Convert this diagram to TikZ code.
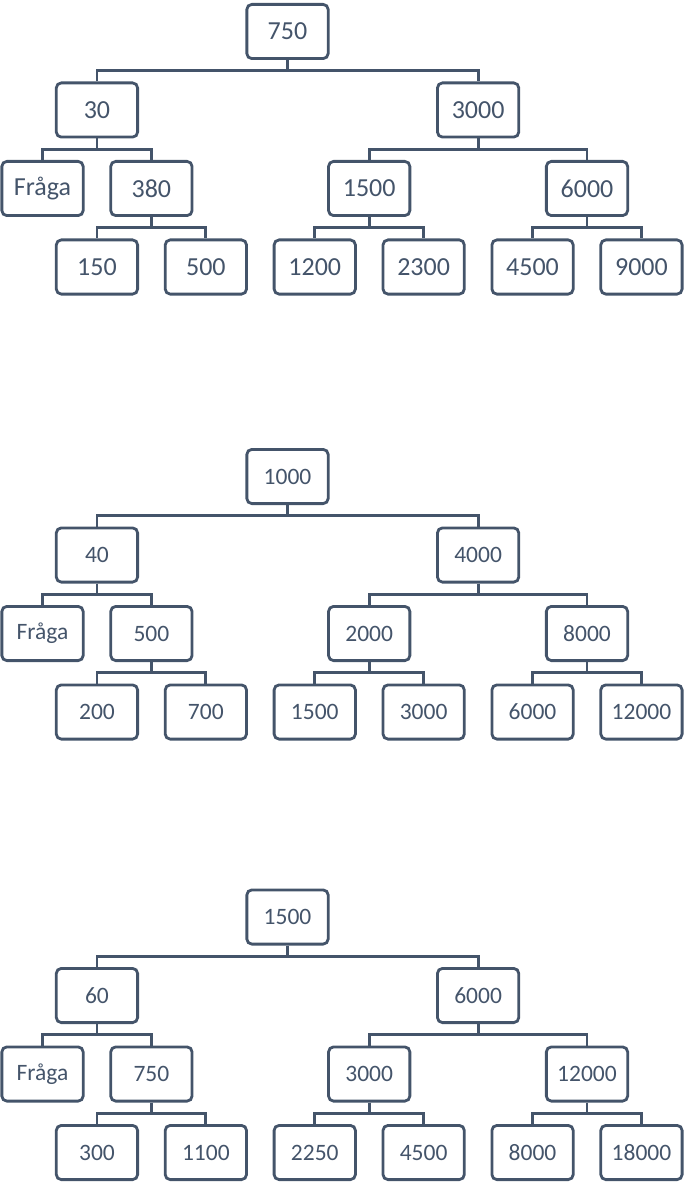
\documentclass[tikz,border=0pt]{standalone}
\usepackage{fontspec}
\setmainfont{Carlito}
\usetikzlibrary{calc}
\definecolor{ink}{HTML}{44546A}
\newcommand\myconn[3]{%
  \draw[link] (#1.south) |- ($(#1.south)!.5!(#2.north)$) -| (#2.north);
  \draw[link] (#1.south) |- ($(#1.south)!.5!(#3.north)$) -| (#3.north);}
\begin{document}
\begin{tikzpicture}[x=1pt,y=-1pt,
  box/.style={draw=ink, line width=2.8pt, rounded corners=5pt, minimum width=81.3pt,
    minimum height=54.2pt, inner sep=0pt, text=ink},
  bigtext/.style={font=\fontsize{26}{30}\selectfont},
  smalltext/.style={font=\fontsize{23.5}{28}\selectfont},
  link/.style={draw=ink, line width=2.8pt}]
\useasboundingbox (0,0) rectangle (685,1182);

% ---------- tree 1 ----------
\begin{scope}[name prefix=a-, every node/.style={box, bigtext}]
\node (r)   at (287.5, 31.5) {750};
\node (l)   at (96.95, 110) {30};
\node (rr)  at (478.1, 110) {3000};
\node (ll)  at (42.5, 188.5) {Fråga};
\node (lr)  at (151.4, 188.5) {380};
\node (rl)  at (369.2, 188.5) {1500};
\node (rrr) at (587, 188.5) {6000};
\node (lrl) at (96.95, 267) {150};
\node (lrr) at (205.85, 267) {500};
\node (rll) at (314.75, 267) {1200};
\node (rlr) at (423.65, 267) {2300};
\node (rrl) at (532.55, 267) {4500};
\node (rrx) at (641.45, 267) {9000};
\myconn{r}{l}{rr}
\myconn{l}{ll}{lr}
\myconn{lr}{lrl}{lrr}
\myconn{rr}{rl}{rrr}
\myconn{rl}{rll}{rlr}
\myconn{rrr}{rrl}{rrx}
\end{scope}

% ---------- tree 2 ----------
\begin{scope}[name prefix=b-, every node/.style={box, smalltext}]
\node (r)   at (287.5, 476.5) {1000};
\node (l)   at (96.95, 555) {40};
\node (rr)  at (478.1, 555) {4000};
\node (ll)  at (42.5, 633.5) {Fråga};
\node (lr)  at (151.4, 633.5) {500};
\node (rl)  at (369.2, 633.5) {2000};
\node (rrr) at (587, 633.5) {8000};
\node (lrl) at (96.95, 712) {200};
\node (lrr) at (205.85, 712) {700};
\node (rll) at (314.75, 712) {1500};
\node (rlr) at (423.65, 712) {3000};
\node (rrl) at (532.55, 712) {6000};
\node (rrx) at (641.45, 712) {12000};
\myconn{r}{l}{rr}
\myconn{l}{ll}{lr}
\myconn{lr}{lrl}{lrr}
\myconn{rr}{rl}{rrr}
\myconn{rl}{rll}{rlr}
\myconn{rrr}{rrl}{rrx}
\end{scope}

% ---------- tree 3 ----------
\begin{scope}[name prefix=c-, every node/.style={box, smalltext}]
\node (r)   at (287.5, 917) {1500};
\node (l)   at (96.95, 995.5) {60};
\node (rr)  at (478.1, 995.5) {6000};
\node (ll)  at (42.5, 1074) {Fråga};
\node (lr)  at (151.4, 1074) {750};
\node (rl)  at (369.2, 1074) {3000};
\node (rrr) at (587, 1074) {12000};
\node (lrl) at (96.95, 1152.5) {300};
\node (lrr) at (205.85, 1152.5) {1100};
\node (rll) at (314.75, 1152.5) {2250};
\node (rlr) at (423.65, 1152.5) {4500};
\node (rrl) at (532.55, 1152.5) {8000};
\node (rrx) at (641.45, 1152.5) {18000};
\myconn{r}{l}{rr}
\myconn{l}{ll}{lr}
\myconn{lr}{lrl}{lrr}
\myconn{rr}{rl}{rrr}
\myconn{rl}{rll}{rlr}
\myconn{rrr}{rrl}{rrx}
\end{scope}
\end{tikzpicture}
\end{document}
